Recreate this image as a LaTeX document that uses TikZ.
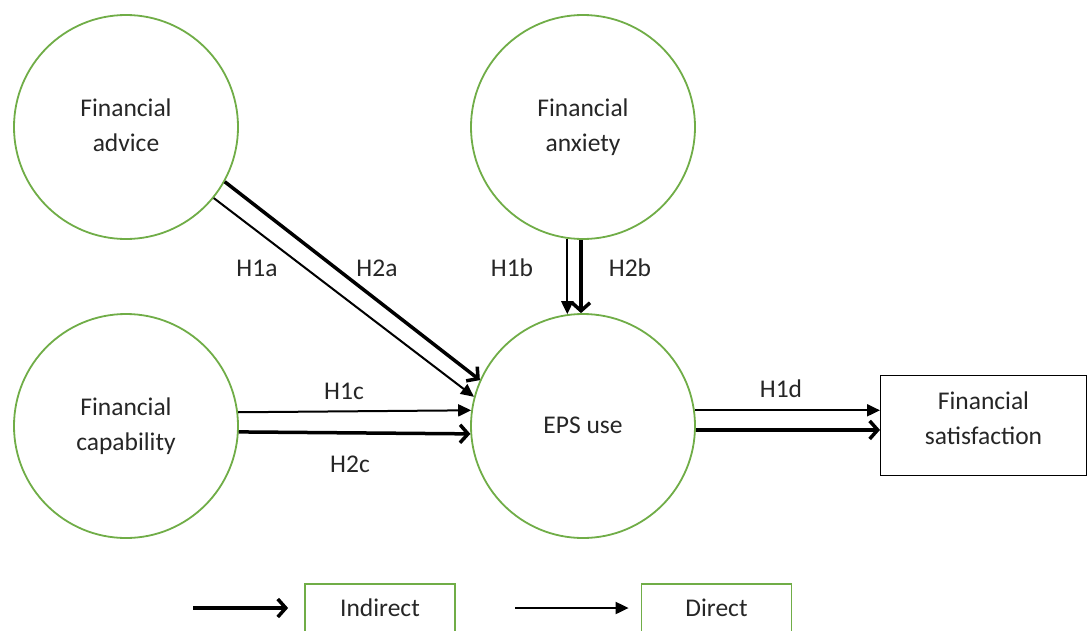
\documentclass[tikz,border=0pt]{standalone}
\usepackage{fontspec}
\setmainfont{Carlito}
\usetikzlibrary{arrows.meta}
\definecolor{cgreen}{RGB}{112,173,71}
\definecolor{txt}{RGB}{38,38,38}
\begin{document}
\begin{tikzpicture}[x=1pt,y=-1pt,
  every node/.style={text=txt,font=\fontsize{25.5}{35}\selectfont},
  construct/.style={circle,draw=cgreen,line width=1.8pt,minimum size=224pt,inner sep=0pt,align=center},
  outcome/.style={draw=black,line width=1pt,minimum width=206pt,minimum height=100pt,inner sep=0pt},
  legbox/.style={draw=cgreen,line width=1.8pt,minimum width=150pt,minimum height=52pt,inner sep=0pt},
  direct/.style={line width=2pt,-{Triangle[length=13pt,width=12pt]}},
  indirect/.style={line width=3.5pt,-{Straight Barb[length=8pt,width=18pt,line width=3.5pt]}},
  hlab/.style={inner sep=1pt}]
\clip (0,0) rectangle (1087,630);
\fill[white] (0,0) rectangle (1087,630);

\node[construct] (adv) at (126,127) {Financial\strut\\advice\strut};
\node[construct] (anx) at (583,127) {Financial\strut\\anxiety\strut};
\node[construct] (cap) at (126,426) {Financial\strut\\capability\strut};
\node[construct] (eps) at (583,426) {EPS use\strut};
\node[outcome] (sat) at (983.5,425.5) {};
\node[align=center] (satt) at (983.5,420) {Financial\strut\\satisfaction\strut};

% advice -> EPS
\draw[indirect] (adv.-29) -- (eps.156);
\draw[direct] (adv.-39) -- (eps.165);
% anxiety -> EPS
\draw[direct] (anx.-98.7) -- (eps.98.7);
\draw[indirect] (anx.-91) -- (eps.91);
% capability -> EPS
\draw[direct] (cap.7.1) -- (eps.172.9);
\draw[indirect] (cap.-3.6) -- (eps.-176.4);
% EPS -> satisfaction
\draw[direct] (eps.8.1) -- (eps.8.1 -| sat.west);
\draw[indirect] (eps.-2) -- (eps.-2 -| sat.west);

\node[hlab] (h1a) at (257,268) {H1a};
\node[hlab] (h2a) at (377,268) {H2a};
\node[hlab] (h1b) at (512,268) {H1b};
\node[hlab] (h2b) at (630,268) {H2b};
\node[hlab] (h1c) at (344,391) {H1c};
\node[hlab] (h2c) at (350,464) {H2c};
\node[hlab] (h1d) at (781,389) {H1d};

% legend
\node[legbox] (lind) at (380,610) {};
\node (lindt) at (380,608) {Indirect};
\node[legbox] (ldir) at (716.5,610) {};
\node (ldirt) at (716.5,608) {Direct};
\coordinate (la1) at (193,608);
\coordinate (lb1) at (515,608);
\draw[indirect] (la1) -- ([xshift=-16pt]la1 -| lind.west);
\draw[direct] (lb1) -- ([xshift=-12pt]lb1 -| ldir.west);
\end{tikzpicture}
\end{document}
